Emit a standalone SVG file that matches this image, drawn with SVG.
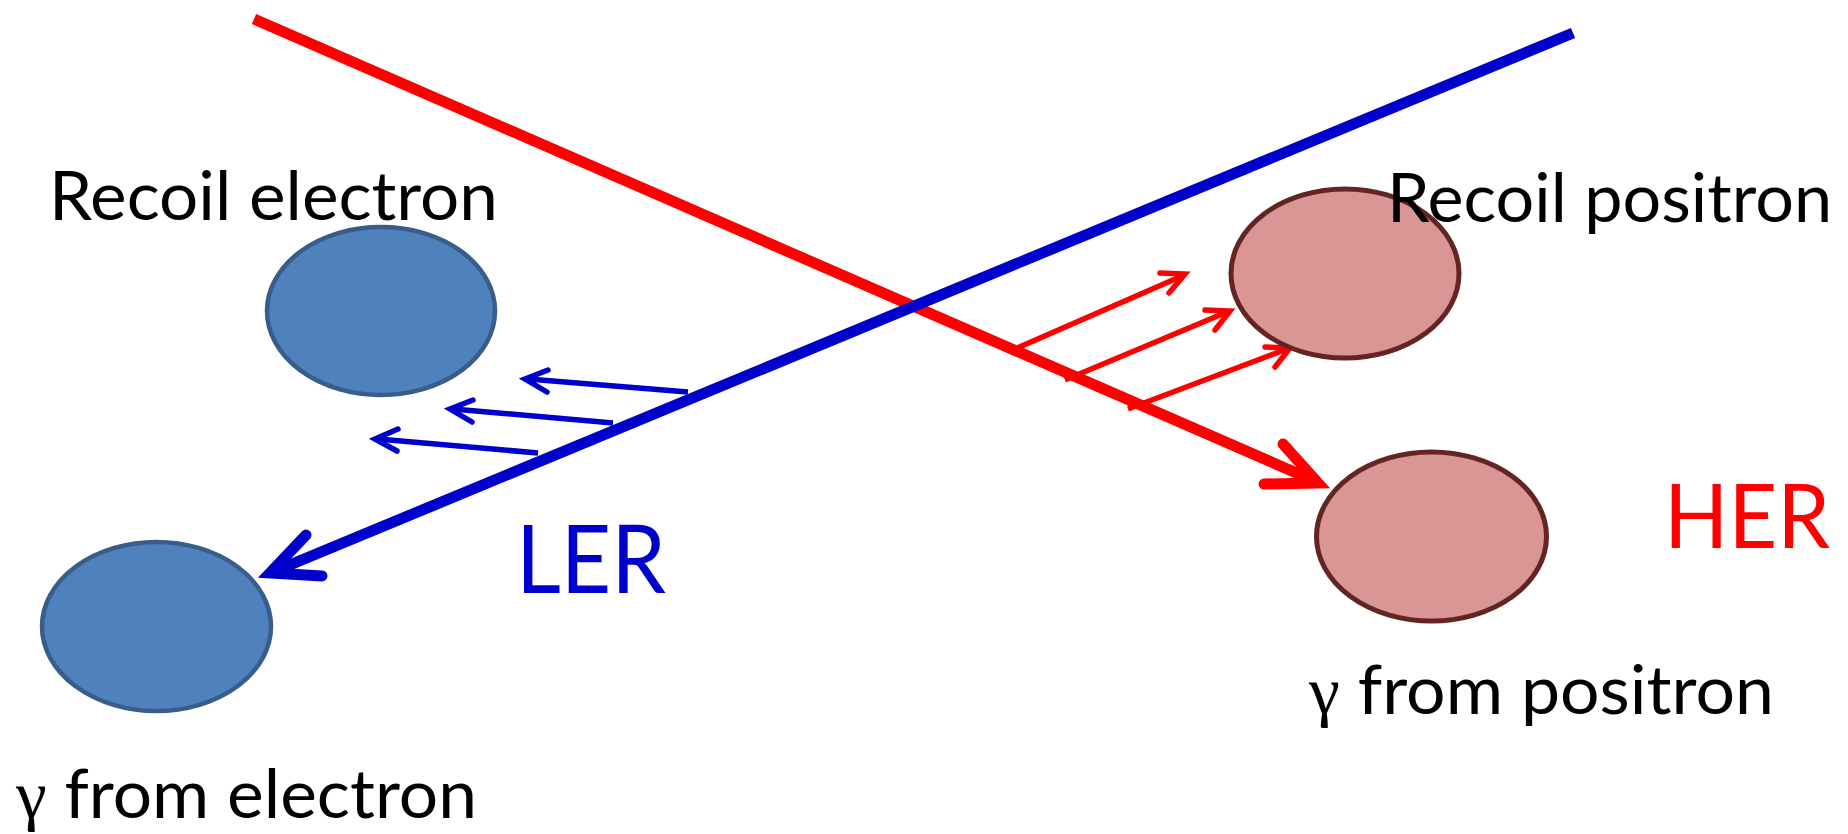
<svg xmlns="http://www.w3.org/2000/svg" width="1848" height="834" viewBox="0 0 1848 834">
<style>
  .lbl { font-family: Lato, "Open Sans", "Liberation Sans", sans-serif; font-size: 67px; fill: #000000; }
  .big { font-family: Lato, "Open Sans", "Liberation Sans", sans-serif; font-size: 95px; }
  .g { font-family: "Liberation Serif", "DejaVu Serif", serif; }
  .blueEll { fill: #4F81BD; stroke: #385D8A; stroke-width: 4.5; }
  .redEll { fill: #D99694; stroke: #632523; stroke-width: 5; }
  .beamR { stroke: #FF0000; stroke-width: 11; fill: none; }
  .beamB { stroke: #0000CC; stroke-width: 11; fill: none; }
  .headR { stroke: #FF0000; stroke-width: 11; fill: none; stroke-linecap: round; stroke-linejoin: miter; }
  .headB { stroke: #0000CC; stroke-width: 11; fill: none; stroke-linecap: round; stroke-linejoin: miter; }
  .smR { stroke: #FF0000; stroke-width: 5.5; fill: none; }
  .smB { stroke: #0000CC; stroke-width: 5.5; fill: none; }
  .smHeadR { stroke: #FF0000; stroke-width: 5.5; fill: none; stroke-linecap: round; stroke-linejoin: miter; }
  .smHeadB { stroke: #0000CC; stroke-width: 5.5; fill: none; stroke-linecap: round; stroke-linejoin: miter; }
</style>

<g id="connectors">
  <!-- HER beam (red) -->
  <line class="beamR" x1="254" y1="19" x2="1308" y2="478"/>
  <path class="headR" d="M1283,444 L1318,483 L1264,484"/>
  <!-- LER beam (blue) -->
  <line class="beamB" x1="1573" y1="33" x2="280" y2="569"/>
  <path class="headB" d="M306,535 L270,573 L322,576"/>
  <!-- small blue arrows (recoil electrons) -->
  <line class="smB" x1="688" y1="392" x2="528" y2="379"/>
  <path class="smHeadB" d="M548,370 L525,379 L547,392"/>
  <line class="smB" x1="613" y1="423" x2="453" y2="409"/>
  <path class="smHeadB" d="M473,400 L450,409 L472,422"/>
  <line class="smB" x1="538" y1="453" x2="378" y2="439"/>
  <path class="smHeadB" d="M398,429 L375,439 L397,451"/>
  <!-- small red arrows (recoil positrons) -->
  <line class="smR" x1="1015" y1="349" x2="1182" y2="276"/>
  <path class="smHeadR" d="M1160,273 L1185,274 L1169,293"/>
  <line class="smR" x1="1065" y1="380" x2="1227" y2="312"/>
  <path class="smHeadR" d="M1205,310 L1230,311 L1215,330"/>
  <line class="smR" x1="1128" y1="409" x2="1287" y2="349"/>
  <path class="smHeadR" d="M1265,347 L1290,348 L1275,367"/>
</g>

<g id="recoil-electron">
  <ellipse class="blueEll" cx="381" cy="311" rx="114" ry="84"/>
  <text class="lbl" x="49" y="220" textLength="449" lengthAdjust="spacingAndGlyphs">Recoil electron</text>
</g>

<g id="gamma-electron">
  <ellipse class="blueEll" cx="156.5" cy="626.5" rx="114.5" ry="84.5"/>
  <text class="lbl" x="16" y="818" textLength="461" lengthAdjust="spacingAndGlyphs"><tspan class="g">γ</tspan> from electron</text>
</g>

<g id="recoil-positron">
  <ellipse class="redEll" cx="1345" cy="273.5" rx="114" ry="84.5"/>
  <text class="lbl" x="1387" y="222" textLength="445" lengthAdjust="spacingAndGlyphs">Recoil positron</text>
</g>

<g id="gamma-positron">
  <ellipse class="redEll" cx="1431.5" cy="536.5" rx="115" ry="84.5"/>
  <text class="lbl" x="1309" y="714" textLength="465" lengthAdjust="spacingAndGlyphs"><tspan class="g">γ</tspan> from positron</text>
</g>

<g id="LER">
  <text class="big" x="516" y="593" fill="#0000CC" textLength="150" lengthAdjust="spacingAndGlyphs">LER</text>
</g>

<g id="HER">
  <text class="big" x="1664" y="548" fill="#FF0000" style="font-size:90px" textLength="166" lengthAdjust="spacingAndGlyphs">HER</text>
</g>
</svg>
